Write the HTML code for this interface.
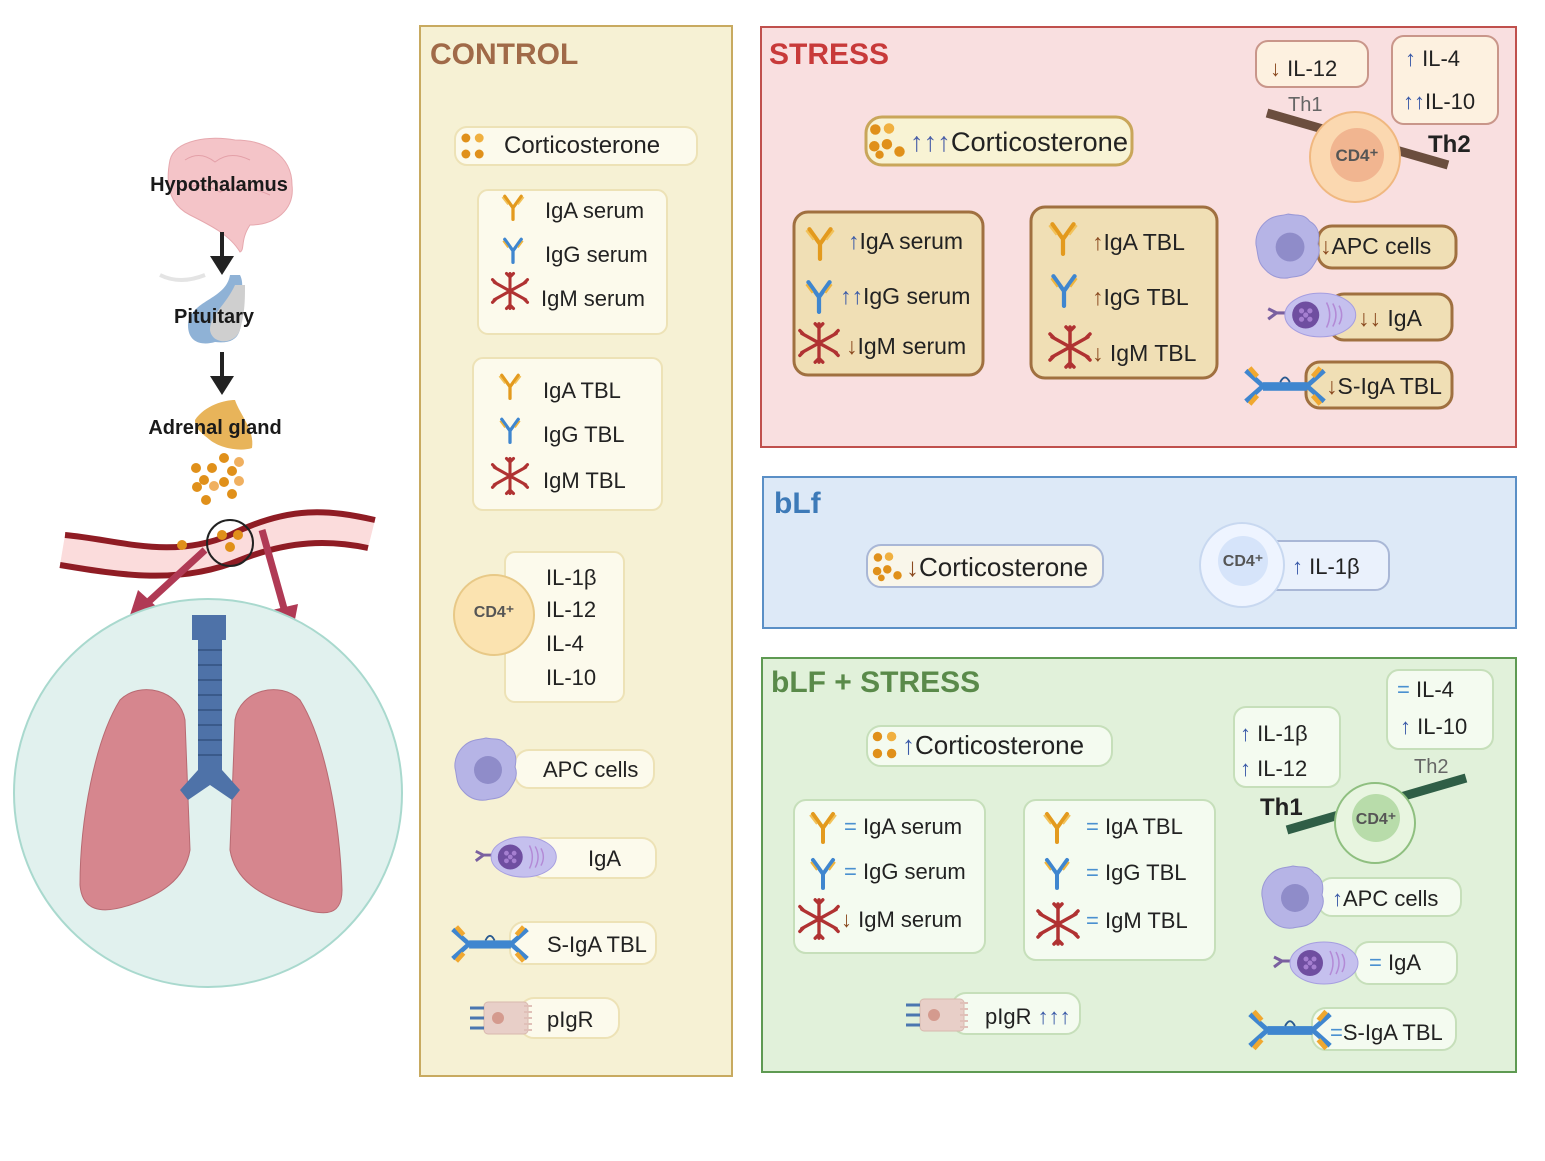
<!DOCTYPE html>
<html><head><meta charset="utf-8"><style>
html,body{margin:0;padding:0;background:#fff;}
svg{display:block;font-family:"Liberation Sans",sans-serif;}
</style></head><body>
<svg width="1545" height="1161" viewBox="0 0 1545 1161" xmlns="http://www.w3.org/2000/svg">
<defs>
<symbol id="ya" viewBox="0 0 30 34"><g stroke="#e39a1e" stroke-width="4" stroke-linecap="round" fill="none"><path d="M15 32V18M15 18L5 4M15 18L25 4"/></g><g stroke="#f2c25a" stroke-width="2" fill="none"><path d="M9 14L2 5M21 14L28 5"/></g></symbol>
<symbol id="yg" viewBox="0 0 30 34"><g stroke="#3f86cf" stroke-width="4" stroke-linecap="round" fill="none"><path d="M15 32V18M15 18L5 4M15 18L25 4"/></g><g stroke="#f0b43c" stroke-width="2" fill="none"><path d="M9 14L3 6M21 14L27 6"/></g></symbol>
<symbol id="ym" viewBox="0 0 48 48"><g stroke="#b03232" stroke-width="3.5" stroke-linecap="round" fill="none"><path d="M24 24V4M24 24V44M24 24L6 14M24 24L42 14M24 24L6 34M24 24L42 34M20 4L24 8L28 4M20 44L24 40L28 44M4 11L8 15M44 11L40 15M4 37L8 33M44 37L40 33"/></g></symbol>
<symbol id="apc" viewBox="0 0 66 66"><path d="M33 2C42 4 48 1 54 9C63 14 64 22 62 31C66 40 60 48 56 54C48 64 40 62 33 64C24 65 16 62 10 55C3 48 4 40 2 32C1 22 6 14 12 9C19 3 26 4 33 2Z" fill="#b6b4e6" stroke="#9a98d6"/><circle cx="35" cy="34" r="14" fill="#8f8cc9"/></symbol>
<symbol id="pc" viewBox="0 0 90 48"><path d="M2 18L10 22L2 28M10 22H20" stroke="#7a60a0" stroke-width="3" fill="none"/><ellipse cx="52" cy="24" rx="34" ry="21" fill="#c5c0ee" stroke="#a69ee0"/><circle cx="38" cy="24" r="13" fill="#6f4ea0"/><g fill="#a57fd0"><circle cx="34" cy="20" r="2.5"/><circle cx="42" cy="20" r="2.5"/><circle cx="34" cy="28" r="2.5"/><circle cx="42" cy="28" r="2.5"/><circle cx="38" cy="24" r="2.5"/></g><path d="M58 12Q64 24 58 36M64 13Q70 24 64 35M70 15Q75 24 70 33" stroke="#b38ad6" fill="none" stroke-width="1.5"/></symbol>
<symbol id="siga" viewBox="0 0 90 44"><path d="M4 6L22 22L4 38M86 6L68 22L86 38" stroke="#3f86cf" stroke-width="5" fill="none"/><path d="M8 3L16 12M8 41L16 32M82 3L74 12M82 41L74 32" stroke="#f0a830" stroke-width="5"/><rect x="22" y="18" width="46" height="9" fill="#3f86cf"/><path d="M40 18Q45 8 50 18" stroke="#2a5a90" stroke-width="2" fill="none"/></symbol>
<symbol id="pigr" viewBox="0 0 70 40"><rect x="16" y="4" width="44" height="32" rx="4" fill="#e8cfc8" stroke="#d8b8ae"/><circle cx="30" cy="20" r="6" fill="#d49a8e"/><path d="M2 10H16M2 20H16M2 30H16" stroke="#4a76b0" stroke-width="3"/><path d="M56 8H64M56 14H64M56 20H64M56 26H64M56 32H64" stroke="#e0c0b8" stroke-width="2"/></symbol>
<symbol id="dots" viewBox="0 0 40 36"><g fill="#e0901a"><circle cx="7" cy="8" r="5"/><circle cx="20" cy="7" r="5" fill="#f0b040"/><circle cx="6" cy="24" r="5"/><circle cx="18" cy="22" r="5"/><circle cx="30" cy="29" r="5"/><circle cx="11" cy="32" r="4"/></g></symbol>
<symbol id="dots4" viewBox="0 0 30 36"><g fill="#e0901a"><circle cx="7" cy="9" r="5"/><circle cx="22" cy="9" r="5" fill="#f0b040"/><circle cx="7" cy="27" r="5"/><circle cx="22" cy="27" r="5"/></g></symbol>
</defs>

<!-- LEFT -->
<path d="M170 160C175 140 210 135 235 140C265 140 292 155 292 185C295 210 275 225 250 225C240 240 245 250 240 252C230 235 210 225 190 215C170 205 165 185 170 160Z" fill="#f4c4c8" stroke="#e6a8ae"/>
<path d="M185 160Q200 150 215 162Q230 150 250 160M180 190Q200 180 220 192Q240 182 270 195" stroke="#e3a0a8" fill="none"/>
<text x="219" y="191" font-size="20" font-weight="bold" text-anchor="middle" fill="#1a1a1a">Hypothalamus</text>
<path d="M222 232V258" stroke="#222" stroke-width="4"/><path d="M210 256L222 275L234 256Z" fill="#222"/>
<path d="M160 275Q180 285 205 275" stroke="#e4e4e4" stroke-width="4" fill="none"/>
<path d="M230 275C226 300 190 300 188 325C188 345 205 345 215 342C240 345 243 330 240 310C240 295 245 285 240 275Z" fill="#8fb2d6"/>
<path d="M235 285C226 305 210 315 210 330C212 345 235 345 240 330C245 312 245 300 245 285Z" fill="#cfcfcf"/>
<text x="214" y="323" font-size="20" font-weight="bold" text-anchor="middle" fill="#1a1a1a">Pituitary</text>
<path d="M222 352V378" stroke="#222" stroke-width="4"/><path d="M210 376L222 395L234 376Z" fill="#222"/>
<path d="M195 420C205 405 225 400 235 400C240 415 255 430 252 448C240 452 220 448 210 440C200 432 195 428 195 420Z" fill="#e8b45a"/>
<text x="215" y="434" font-size="20" font-weight="bold" text-anchor="middle" fill="#1a1a1a">Adrenal gland</text>
<g fill="#e0901a"><circle cx="196" cy="468" r="5"/><circle cx="212" cy="468" r="5"/><circle cx="224" cy="458" r="5"/><circle cx="232" cy="471" r="5"/><circle cx="204" cy="480" r="5"/><circle cx="197" cy="487" r="5"/><circle cx="224" cy="482" r="5"/><circle cx="206" cy="500" r="5"/><circle cx="232" cy="494" r="5"/><circle cx="214" cy="486" r="5" fill="#f0b060"/><circle cx="239" cy="462" r="5" fill="#f0b060"/><circle cx="239" cy="481" r="5" fill="#f0b060"/></g>
<path d="M65 535C120 540 170 560 230 535C290 505 330 510 375 520L368 548C330 540 290 540 240 560C180 585 120 575 60 565Z" fill="#fbdcdc"/>
<path d="M65 535C120 540 170 560 230 535C290 505 330 510 375 520" stroke="#8f1c24" stroke-width="6" fill="none"/>
<path d="M60 565C120 575 180 585 240 560C290 540 330 540 368 548" stroke="#8f1c24" stroke-width="6" fill="none"/>
<circle cx="230" cy="543" r="23" fill="none" stroke="#222" stroke-width="2"/>
<g fill="#e0901a"><circle cx="222" cy="535" r="5"/><circle cx="238" cy="535" r="5"/><circle cx="230" cy="547" r="5"/><circle cx="182" cy="545" r="5"/></g>
<path d="M205 550L145 605" stroke="#b03a55" stroke-width="7"/><path d="M130 615L138 590L158 608Z" fill="#b03a55"/>
<path d="M262 530L285 612" stroke="#b03a55" stroke-width="7"/><path d="M292 635L272 610L298 604Z" fill="#b03a55"/>
<circle cx="208" cy="793" r="194" fill="#e1f1ee" stroke="#a9d9ce" stroke-width="2"/>
<path d="M120 700C140 680 180 690 185 720L190 850C185 880 160 895 130 905C100 915 82 910 80 885C80 820 95 740 120 700Z" fill="#d6868e" stroke="#b86a72"/>
<path d="M300 700C280 680 240 690 235 720L230 850C235 880 260 895 290 905C320 915 342 920 342 890C340 820 325 740 300 700Z" fill="#d6868e" stroke="#b86a72"/>
<path d="M192 615H226V640H222V770L240 790L232 800L210 785L188 800L180 790L198 770V640H192Z" fill="#4e72a8"/>
<g stroke="#3a5a8a" stroke-width="2"><path d="M198 650H222M198 665H222M198 680H222M198 695H222M198 710H222M198 725H222M198 740H222M198 755H222"/></g>

<!-- CONTROL -->
<rect x="420" y="26" width="312" height="1050" fill="#f6f1d4" stroke="#c8aa60" stroke-width="2"/>
<text x="430" y="64" font-size="30" font-weight="bold" fill="#a06a48">CONTROL</text>
<g fill="#fcfaec" stroke="#ede2b6" stroke-width="2">
<rect x="455" y="127" width="242" height="38" rx="12"/>
<rect x="478" y="190" width="189" height="144" rx="10"/>
<rect x="473" y="358" width="189" height="152" rx="10"/>
<rect x="505" y="552" width="119" height="150" rx="10"/>
<rect x="515" y="750" width="139" height="38" rx="14"/>
<rect x="530" y="838" width="126" height="40" rx="14"/>
<rect x="510" y="922" width="146" height="42" rx="14"/>
<rect x="520" y="998" width="99" height="40" rx="14"/>
</g>
<use href="#dots4" x="458" y="130" width="30" height="32"/>
<g font-size="24" fill="#222"><text x="504" y="153">Corticosterone</text></g>
<g font-size="22" fill="#222">
<use href="#ya" x="498" y="193" width="30" height="28"/><text x="545" y="218">IgA serum</text>
<use href="#yg" x="498" y="236" width="30" height="28"/><text x="545" y="262">IgG serum</text>
<use href="#ym" x="487" y="270" width="46" height="42"/><text x="541" y="306">IgM serum</text>
<use href="#ya" x="495" y="372" width="30" height="28"/><text x="543" y="398">IgA TBL</text>
<use href="#yg" x="495" y="416" width="30" height="28"/><text x="543" y="442">IgG  TBL</text>
<use href="#ym" x="487" y="455" width="46" height="42"/><text x="543" y="488">IgM TBL</text>
<text x="546" y="585">IL-1β</text><text x="546" y="617">IL-12</text><text x="546" y="651">IL-4</text><text x="546" y="685">IL-10</text>
<text x="543" y="777">APC cells</text><text x="588" y="866">IgA</text><text x="547" y="952">S-IgA TBL</text><text x="547" y="1027">pIgR</text>
</g>
<circle cx="494" cy="615" r="40" fill="#fbe3b0" stroke="#e8c987" stroke-width="2"/>
<text x="494" y="617" font-size="16" font-weight="bold" text-anchor="middle" fill="#555">CD4⁺</text>
<use href="#apc" x="453" y="736" width="66" height="66"/>
<use href="#pc" x="472" y="834" width="90" height="46"/>
<use href="#siga" x="448" y="924" width="84" height="40"/>
<use href="#pigr" x="468" y="998" width="70" height="40"/>

<!-- STRESS -->
<rect x="761" y="27" width="755" height="420" fill="#f9dfe0" stroke="#c0504d" stroke-width="2"/>
<text x="769" y="64" font-size="30" font-weight="bold" fill="#c83a3a">STRESS</text>
<rect x="866" y="117" width="266" height="48" rx="16" fill="#f8f3d4" stroke="#c9a65a" stroke-width="3"/>
<use href="#dots" x="868" y="120" width="42" height="40"/>
<text x="910" y="151" font-size="27" fill="#222" textLength="218" lengthAdjust="spacingAndGlyphs"><tspan fill="#4a5fa8">↑↑↑</tspan>Corticosterone</text>
<rect x="1256" y="41" width="112" height="46" rx="12" fill="#fdf1e0" stroke="#c9968a" stroke-width="2"/>
<text x="1270" y="76" font-size="22" fill="#222"><tspan fill="#8a4a20">↓</tspan> IL-12</text>
<rect x="1392" y="36" width="106" height="88" rx="12" fill="#fdf1e0" stroke="#c9968a" stroke-width="2"/>
<text x="1405" y="66" font-size="22" fill="#222"><tspan fill="#3a5aa8">↑</tspan> IL-4</text>
<text x="1403" y="109" font-size="22" fill="#222"><tspan fill="#3a5aa8">↑↑</tspan>IL-10</text>
<text x="1288" y="111" font-size="20" fill="#666">Th1</text>
<path d="M1267 113L1448 165" stroke="#6b4e3e" stroke-width="9"/>
<circle cx="1355" cy="157" r="45" fill="#fbd8b0" stroke="#f0b880" stroke-width="2"/>
<circle cx="1357" cy="155" r="27" fill="#f1b590"/>
<text x="1357" y="161" font-size="17" font-weight="bold" text-anchor="middle" fill="#555">CD4⁺</text>
<text x="1428" y="152" font-size="24" font-weight="bold" fill="#222">Th2</text>
<g fill="#f0dfb5" stroke="#a07040" stroke-width="3">
<rect x="794" y="212" width="189" height="163" rx="14"/>
<rect x="1031" y="207" width="186" height="171" rx="14"/>
<rect x="1318" y="226" width="138" height="42" rx="14"/>
<rect x="1330" y="294" width="122" height="46" rx="14"/>
<rect x="1306" y="362" width="146" height="46" rx="14"/>
</g>
<g font-size="23" fill="#222">
<use href="#ya" x="801" y="225" width="38" height="36"/><text x="848" y="249"><tspan fill="#3a5aa8">↑</tspan>IgA serum</text>
<use href="#yg" x="801" y="278" width="36" height="36"/><text x="840" y="304"><tspan fill="#3a5aa8">↑↑</tspan>IgG serum</text>
<use href="#ym" x="796" y="320" width="46" height="46"/><text x="846" y="354"><tspan fill="#8a4a20">↓</tspan>IgM serum</text>
<use href="#ya" x="1044" y="220" width="38" height="36"/><text x="1092" y="250"><tspan fill="#8a4a20">↑</tspan>IgA TBL</text>
<use href="#yg" x="1046" y="272" width="36" height="36"/><text x="1092" y="305"><tspan fill="#8a4a20">↑</tspan>IgG TBL</text>
<use href="#ym" x="1046" y="323" width="48" height="48"/><text x="1092" y="361"><tspan fill="#8a4a20">↓</tspan>  IgM TBL</text>
<text x="1320" y="254"><tspan fill="#8a4a20">↓</tspan>APC cells</text>
<text x="1358" y="326"><tspan fill="#8a4a20">↓↓</tspan> IgA</text>
<text x="1326" y="394"><tspan fill="#8a4a20">↓</tspan>S-IgA TBL</text>
</g>
<use href="#apc" x="1254" y="210" width="68" height="72"/>
<use href="#pc" x="1266" y="290" width="94" height="50"/>
<use href="#siga" x="1242" y="364" width="86" height="44"/>

<!-- bLf -->
<rect x="763" y="477" width="753" height="151" fill="#dde9f7" stroke="#5a8fc6" stroke-width="2"/>
<text x="774" y="513" font-size="30" font-weight="bold" fill="#3d7ab8">bLf</text>
<rect x="867" y="545" width="236" height="42" rx="14" fill="#f9f6ea" stroke="#a9b7d6" stroke-width="2"/>
<use href="#dots" x="872" y="550" width="34" height="32"/>
<text x="906" y="576" font-size="26" fill="#222"><tspan fill="#8a4a20">↓</tspan>Corticosterone</text>
<rect x="1262" y="541" width="127" height="49" rx="14" fill="#eaf1fc" stroke="#a9b7d6" stroke-width="2"/>
<circle cx="1242" cy="565" r="42" fill="#eef4ff" stroke="#c8d8f0" stroke-width="2"/>
<circle cx="1243" cy="561" r="25" fill="#d6e4fa"/>
<text x="1243" y="566" font-size="16" font-weight="bold" text-anchor="middle" fill="#555">CD4⁺</text>
<text x="1292" y="574" font-size="22" fill="#222"><tspan fill="#3a5aa8">↑</tspan> IL-1β</text>

<!-- bLF + STRESS -->
<rect x="762" y="658" width="754" height="414" fill="#e1f1da" stroke="#5e9a52" stroke-width="2"/>
<text x="771" y="692" font-size="30" font-weight="bold" fill="#5a8a4a">bLF + STRESS</text>
<g fill="#f4fbf0" stroke="#c6dfba" stroke-width="2">
<rect x="867" y="726" width="245" height="40" rx="14"/>
<rect x="794" y="800" width="191" height="153" rx="12"/>
<rect x="1024" y="800" width="191" height="160" rx="12"/>
<rect x="1234" y="707" width="106" height="80" rx="12"/>
<rect x="1387" y="670" width="106" height="79" rx="12"/>
<rect x="1318" y="878" width="143" height="38" rx="14"/>
<rect x="1355" y="942" width="102" height="42" rx="14"/>
<rect x="1312" y="1008" width="144" height="42" rx="14"/>
<rect x="952" y="993" width="128" height="41" rx="14"/>
</g>
<use href="#dots4" x="870" y="728" width="30" height="34"/>
<text x="902" y="754" font-size="26" fill="#222"><tspan fill="#3a5aa8">↑</tspan>Corticosterone</text>
<g font-size="22" fill="#222">
<use href="#ya" x="806" y="810" width="34" height="34"/><text x="844" y="834"><tspan fill="#4a90d0">=</tspan>  IgA serum</text>
<use href="#yg" x="806" y="856" width="34" height="34"/><text x="844" y="879"><tspan fill="#4a90d0">=</tspan>  IgG serum</text>
<use href="#ym" x="796" y="896" width="46" height="46"/><text x="841" y="927"><tspan fill="#8a4a20">↓</tspan>  IgM serum</text>
<use href="#ya" x="1040" y="810" width="34" height="34"/><text x="1086" y="834"><tspan fill="#4a90d0">=</tspan>  IgA TBL</text>
<use href="#yg" x="1040" y="856" width="34" height="34"/><text x="1086" y="880"><tspan fill="#4a90d0">=</tspan>  IgG  TBL</text>
<use href="#ym" x="1034" y="900" width="48" height="48"/><text x="1086" y="928"><tspan fill="#4a90d0">=</tspan>  IgM TBL</text>
<text x="1240" y="741"><tspan fill="#3a5aa8">↑</tspan>  IL-1β</text>
<text x="1240" y="776"><tspan fill="#3a5aa8">↑</tspan>  IL-12</text>
<text x="1397" y="697"><tspan fill="#4a90d0">=</tspan>  IL-4</text>
<text x="1400" y="734"><tspan fill="#3a5aa8">↑</tspan>  IL-10</text>
<text x="1332" y="906"><tspan fill="#3a5aa8">↑</tspan>APC cells</text>
<text x="1369" y="970"><tspan fill="#4a90d0">=</tspan> IgA</text>
<text x="1330" y="1040"><tspan fill="#4a90d0">=</tspan>S-IgA TBL</text>
<text x="985" y="1024">pIgR <tspan fill="#3a5aa8">↑↑↑</tspan></text>
</g>
<text x="1414" y="773" font-size="20" fill="#666">Th2</text>
<text x="1260" y="815" font-size="24" font-weight="bold" fill="#222">Th1</text>
<path d="M1287 830L1466 778" stroke="#2f5e46" stroke-width="9"/>
<circle cx="1375" cy="823" r="40" fill="#e8f5e0" stroke="#8fbf80" stroke-width="2"/>
<circle cx="1376" cy="818" r="24" fill="#b8dcaa"/>
<text x="1376" y="824" font-size="16" font-weight="bold" text-anchor="middle" fill="#555">CD4⁺</text>
<use href="#apc" x="1260" y="862" width="66" height="70"/>
<use href="#pc" x="1272" y="938" width="90" height="50"/>
<use href="#siga" x="1246" y="1008" width="88" height="44"/>
<use href="#pigr" x="904" y="995" width="70" height="40"/>
</svg>
</body></html>
